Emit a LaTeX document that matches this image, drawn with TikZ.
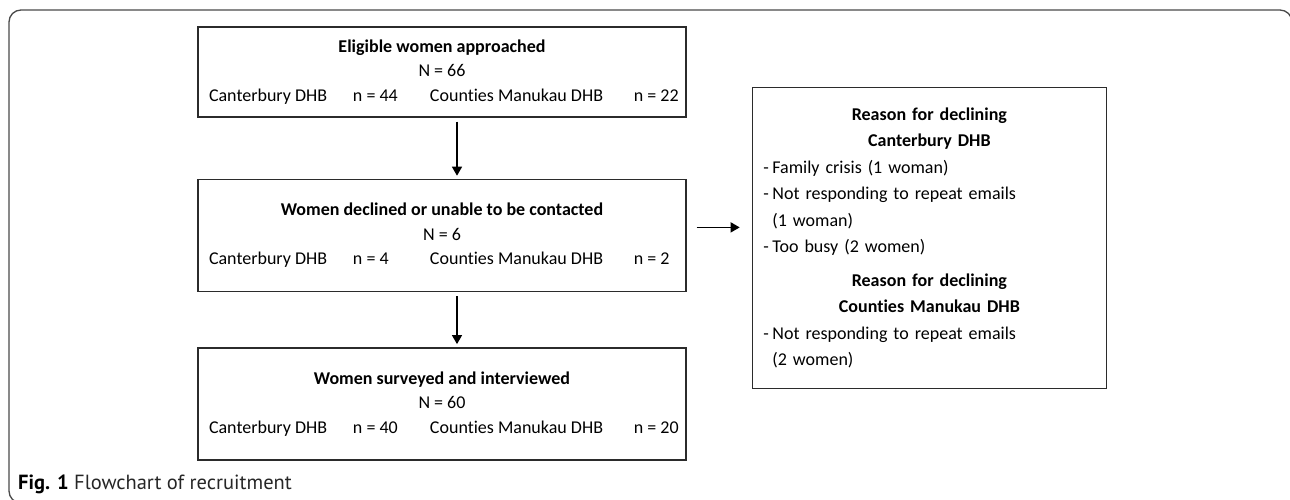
\documentclass[tikz,border=0pt]{standalone}
\usepackage{fontspec}
\setmainfont{Carlito}[Ligatures=NoCommon]
\newfontfamily\capfont{PT Sans}
\usetikzlibrary{arrows.meta,positioning}
\definecolor{boxline}{HTML}{2B2B2B}
\definecolor{frameline}{HTML}{4A4A4A}

% one row of counts per health board
\newcommand{\dhbrow}[2]{\makebox[466pt][l]{\makebox[144pt][l]{Canterbury DHB}\makebox[77pt][l]{n = #1}\makebox[204pt][l]{Counties Manukau DHB}n = #2}}
\newcommand{\dashitem}{\makebox[9pt][l]{-}}
\newcommand{\hangin}{\hspace*{9pt}}
\newcommand{\reasonhead}[1]{\makebox[332pt]{\bfseries #1}}

\begin{document}
\begin{tikzpicture}[%
        x=1pt, y=-1pt,
        stagebox/.style={draw=boxline, line width=1.4pt, minimum width=488pt, inner sep=0pt,
          align=center, font=\fontsize{18}{24.5}\selectfont},
        reasonbox/.style={draw=boxline, line width=1.4pt, minimum width=354pt, minimum height=301pt,
          text width=332pt, inner xsep=11pt, inner ysep=0pt, align=left,
          font=\fontsize{18}{26.5}\selectfont},
        flow/.style={->, line width=1.4pt, draw=black, shorten <=4pt, shorten >=3pt},
        >={Triangle[length=9pt,width=10pt]}
      ]
      \clip (0,0) rectangle (1290,500);
      \draw [frameline, line width=1.3pt, rounded corners=12pt]
        (1292,503) -- (9,503) -- (9,10) -- (1292,10) -- (1292,503);

      \node [stagebox, minimum height=90pt] (approached) at (442,72)
        {\textbf{Eligible women approached}\\N = 66\\\dhbrow{44}{22}};
      \node [stagebox, minimum height=112pt, below=61pt of approached] (declined)
        {\textbf{Women declined or unable to be contacted}\\N = 6\\\dhbrow{4}{2}};
      \node [stagebox, minimum height=112pt, below=55pt of declined] (surveyed)
        {\textbf{Women surveyed and interviewed}\\N = 60\\\dhbrow{40}{20}};
      \node [reasonbox, right=65pt of declined, yshift=-2.5pt] (reasons)
        {\reasonhead{Reason for declining}\\
         \reasonhead{Canterbury DHB}\\
         \dashitem Family crisis (1 woman)\\
         \dashitem Not responding to repeat emails\\
         \hangin(1 woman)\\
         \dashitem Too busy (2 women)\\[7pt]
         \reasonhead{Reason for declining}\\
         \reasonhead{Counties Manukau DHB}\\
         \dashitem Not responding to repeat emails\\
         \hangin(2 women)};

      \path [draw] ([xshift=15pt]approached.south) edge[flow] ([xshift=15pt]declined.north)
      ([xshift=15pt]declined.south) edge[flow] ([xshift=15pt]surveyed.north);
      \draw [flow, shorten <=10pt, shorten >=12pt]
        ([yshift=8pt]declined.east) -- ([yshift=8pt]declined.east -| reasons.west);

      \node [anchor=base west, inner sep=0pt, font=\capfont\fontsize{20.5}{22}\selectfont] (caption)
        at (18,489) {\textbf{Fig. 1} \color{black!85}Flowchart of recruitment};
    \end{tikzpicture}
\end{document}
